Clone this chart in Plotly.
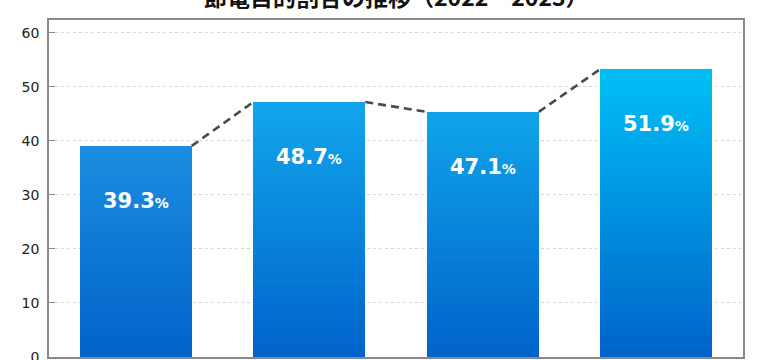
import plotly.graph_objects as go

# ---- data ----
categories = ["2022年夏", "2022年冬", "2023年夏", "2023年冬"]
bar_values = [39.1, 47.2, 45.4, 53.3]          # drawn bar heights (as in the picture)
label_values = ["39.3", "48.7", "47.1", "51.9"]  # printed labels
top_colors = ["#1c8de0", "#12a6ec", "#10a4ea", "#00bff5"]
bottom_color = "#0063ca"
y_ticks = [0, 10, 20, 30, 40, 50, 60]

title_text = "節電目的割合の推移（2022・2023）"

BAR_W = 0.646
N_SEG = 60


def hex2rgb(h):
    h = h.lstrip("#")
    return tuple(int(h[i:i + 2], 16) for i in (0, 2, 4))


def mix(c1, c2, t):
    a, b = hex2rgb(c1), hex2rgb(c2)
    return "rgb({},{},{})".format(*[round(a[i] + (b[i] - a[i]) * t) for i in range(3)])


xs = list(range(len(categories)))
fig = go.Figure()

# gradient bars built from stacked thin segments
for k in range(N_SEG):
    t = (k + 0.5) / N_SEG
    fig.add_trace(go.Bar(
        x=xs,
        y=[v / N_SEG for v in bar_values],
        width=BAR_W,
        marker=dict(color=[mix(bottom_color, tc, t) for tc in top_colors],
                    line=dict(width=0)),
        showlegend=False,
        hoverinfo="skip",
    ))

# dashed connectors: top-right corner of one bar to top-left corner of the next
for i in range(len(xs) - 1):
    fig.add_trace(go.Scatter(
        x=[xs[i] + BAR_W / 2, xs[i + 1] - BAR_W / 2],
        y=[bar_values[i], bar_values[i + 1]],
        mode="lines",
        line=dict(color="#4a4a4a", width=2.6, dash="8px,5px"),
        showlegend=False,
        hoverinfo="skip",
    ))

# value labels
for i, (x, v, lab) in enumerate(zip(xs, bar_values, label_values)):
    fig.add_annotation(
        x=x, y=v, xref="x", yref="y",
        text=f"<b>{lab}<span style='font-size:14px'>%</span></b>",
        showarrow=False, yanchor="middle", yshift=-55,
        font=dict(family="DejaVu Sans", size=21, color="white"),
    )

# title (cut off by the top edge, as in the reference)
fig.add_annotation(
    x=0.5, y=1, xref="paper", yref="paper", xanchor="center", yanchor="middle",
    yshift=24, showarrow=False,
    text=f"<b>{title_text}</b>",
    font=dict(family="Noto Sans CJK JP", size=23, color="#111"),
)

fig.update_layout(
    width=760, height=360,
    margin=dict(l=49, r=17, t=20, b=3),
    barmode="stack",
    bargap=0,
    plot_bgcolor="white",
    paper_bgcolor="white",
)

fig.update_xaxes(
    range=[-0.5, len(xs) - 0.5],
    tickvals=xs, ticktext=categories, showticklabels=False,
    showgrid=False, zeroline=False, automargin=False,
    showline=True, linecolor="#8a8a8a", linewidth=1.5, mirror=True,
)
fig.update_yaxes(
    range=[0, 62.4], tickvals=y_ticks,
    showgrid=True, gridcolor="#d6d6d6", griddash="dot", gridwidth=1,
    zeroline=False, automargin=False,
    showline=True, linecolor="#8a8a8a", linewidth=1.5, mirror=True,
    ticks="inside", ticklen=6, tickcolor="#8a8a8a",
    tickfont=dict(family="DejaVu Sans", size=14, color="#222"),
    ticklabelstandoff=5,
    ticklabeloverflow="allow",
)

fig.write_html("out.html")
